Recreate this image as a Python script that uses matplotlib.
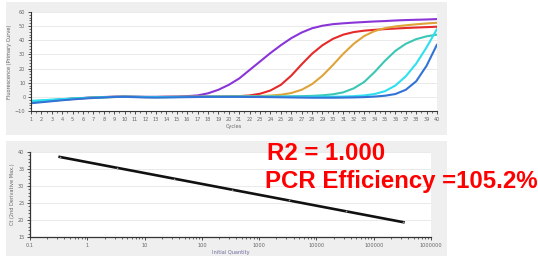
import numpy as np
import matplotlib
matplotlib.use("Agg")
import matplotlib.pyplot as plt
from matplotlib.patches import Rectangle
from matplotlib.ticker import MultipleLocator, LogLocator, NullFormatter, FixedLocator

cycles = list(range(1, 41))
purple = [-3.5, -3.0, -2.4, -1.8, -1.2, -0.8, -0.4, -0.1, 0.1, 0.2, 0.1, 0.0, 0.0, 0.1, 0.2, 0.5, 1.0, 2.5, 5.0, 8.5,
          13, 19, 25, 31, 36.5, 41.5, 45.5, 48.5, 50.3, 51.4, 52.0, 52.5, 52.9, 53.3, 53.6, 54.0, 54.3, 54.5, 54.7, 55.0]
red = [-3.8, -3.2, -2.6, -2.0, -1.4, -0.9, -0.5, -0.2, 0.0, 0.1, 0.0, -0.1, -0.1, 0.0, 0.0, 0.1, 0.1, 0.2, 0.2, 0.3,
       0.5, 1.0, 2.2, 4.5, 8.5, 15, 23, 30.5, 36.5, 41, 44, 45.8, 46.8, 47.4, 47.9, 48.3, 48.7, 49.0, 49.3, 49.6]
gold = [-4.0, -3.4, -2.7, -2.1, -1.5, -1.0, -0.6, -0.3, -0.1, 0.0, -0.1, -0.2, -0.2, -0.1, 0.0, 0.0, 0.1, 0.1, 0.2, 0.2,
        0.3, 0.4, 0.6, 0.9, 1.5, 2.7, 5.0, 9.0, 15, 22.5, 30.5, 37.5, 43, 46.5, 48.6, 49.8, 50.6, 51.3, 51.9, 52.4]
teal = [-3.2, -2.7, -2.2, -1.7, -1.2, -0.8, -0.5, -0.2, 0.0, 0.1, 0.0, -0.1, -0.2, -0.2, -0.1, 0.0, 0.0, 0.1, 0.1, 0.1,
        0.2, 0.2, 0.2, 0.3, 0.3, 0.4, 0.5, 0.7, 1.1, 1.8, 3.2, 6.0, 10.5, 17.5, 25.5, 32.5, 37.5, 40.8, 42.8, 44.0]
cyan = [-2.8, -2.4, -2.0, -1.6, -1.2, -0.9, -0.6, -0.3, -0.1, 0.0, 0.0, -0.1, -0.1, -0.1, 0.0, 0.0, 0.0, 0.0, 0.1, 0.1,
        0.1, 0.1, 0.1, 0.1, 0.0, 0.0, 0.0, 0.0, 0.1, 0.1, 0.2, 0.5, 1.0, 2.0, 4.0, 8.0, 14.5, 23.5, 35, 48]
blue = [-4.5, -3.8, -3.1, -2.4, -1.8, -1.2, -0.8, -0.4, -0.1, 0.0, -0.2, -0.4, -0.5, -0.4, -0.3, -0.2, -0.1, 0.0, 0.0, 0.0,
        0.0, -0.1, -0.1, -0.2, -0.3, -0.4, -0.5, -0.6, -0.6, -0.6, -0.5, -0.4, -0.2, 0.2, 0.8, 2.0, 5.0, 11, 22, 37]

series = [("purple", purple, "#8a35d8"), ("red", red, "#e52a2a"), ("gold", gold, "#e0a33a"),
          ("teal", teal, "#3cc6b4"), ("cyan", cyan, "#2fe0ee"), ("blue", blue, "#3173d6")]

quantity = [0.33, 3.3, 33, 330, 3300, 33000, 330000]
ct = [38.55, 35.35, 32.15, 28.95, 25.75, 22.55, 19.35]

W, H = 538, 259
fig = plt.figure(figsize=(W / 100, H / 100), dpi=100)
fig.patch.set_facecolor("white")

def fbox(x0, y0, x1, y1):
    return [x0 / W, 1 - y1 / H, (x1 - x0) / W, (y1 - y0) / H]

panel_col = "#efefef"
for (x0, y0, x1, y1) in [(6, 2, 447, 135), (6, 141, 447, 256)]:
    b = fbox(x0, y0, x1, y1)
    fig.patches.append(Rectangle((b[0], b[1]), b[2], b[3], transform=fig.transFigure,
                                 facecolor=panel_col, edgecolor="none", zorder=-10))

tick_col = "#666666"
fs = 3.6

# Top: amplification plot
ax1 = fig.add_axes(fbox(31, 12, 437, 111))
ax1.set_zorder(1)
for name, vals, col in series:
    ax1.plot(cycles, vals, color=col, lw=1.5, solid_capstyle="round", solid_joinstyle="round")
ax1.set_xlim(1, 40)
ax1.set_ylim(-10, 60)
ax1.xaxis.set_major_locator(MultipleLocator(1))
ax1.xaxis.set_minor_locator(MultipleLocator(0.5))
ax1.yaxis.set_major_locator(MultipleLocator(10))
ax1.yaxis.set_minor_locator(MultipleLocator(2))
ax1.grid(axis="y", color="#e6e6e6", lw=0.6)
ax1.set_axisbelow(True)
for s in ["top", "right"]:
    ax1.spines[s].set_visible(False)
for s in ["left", "bottom"]:
    ax1.spines[s].set_color("#333333")
    ax1.spines[s].set_linewidth(0.8)
ax1.tick_params(which="major", length=2.5, width=0.6, labelsize=fs, labelcolor=tick_col, pad=1.5, color="#333333")
ax1.tick_params(which="minor", length=1.5, width=0.5, color="#333333")
ax1.set_xlabel("Cycles", fontsize=fs, color=tick_col, labelpad=1.5)
ax1.set_ylabel("Fluorescence (Primary Curve)", fontsize=fs, color=tick_col, labelpad=2)

# Bottom: standard curve
ax2 = fig.add_axes(fbox(30, 152, 431, 237))
ax2.set_zorder(1)
ax2.plot(quantity, ct, color="#111111", lw=1.9)
ax2.plot(quantity, ct, ls="none", marker="+", ms=2, mew=0.4, color="#999999")
ax2.set_xscale("log")
ax2.set_xlim(0.1, 1e6)
ax2.set_ylim(15, 40)
ax2.xaxis.set_major_locator(FixedLocator([0.1, 1, 10, 100, 1000, 10000, 100000, 1000000]))
ax2.set_xticklabels(["0.1", "1", "10", "100", "1000", "10000", "100000", "1000000"])
ax2.xaxis.set_minor_locator(LogLocator(base=10, subs=np.arange(2, 10)))
ax2.xaxis.set_minor_formatter(NullFormatter())
ax2.yaxis.set_major_locator(MultipleLocator(5))
ax2.yaxis.set_minor_locator(MultipleLocator(1))
ax2.grid(axis="y", which="major", color="#e6e6e6", lw=0.6)
ax2.set_axisbelow(True)
for s in ["top", "right"]:
    ax2.spines[s].set_visible(False)
for s in ["left", "bottom"]:
    ax2.spines[s].set_color("#333333")
    ax2.spines[s].set_linewidth(0.9)
ax2.tick_params(which="major", length=2.5, width=0.6, labelsize=fs, labelcolor=tick_col, pad=1.5, color="#333333")
ax2.tick_params(which="minor", length=1.5, width=0.5, color="#333333")
ax2.set_xlabel("Initial Quantity", fontsize=fs, color="#6a6a9a", labelpad=2)
ax2.set_ylabel("Ct (2nd Derivative Max.)", fontsize=fs, color=tick_col, labelpad=2)

# Annotation text
t1 = fig.text(267 / W, 1 - 160 / H, "R2 = 1.000", color="#ff0000", fontsize=17.3, fontweight="bold",
              family=["Liberation Sans", "DejaVu Sans"], ha="left", va="baseline")
t2 = fig.text(265 / W, 1 - 188 / H, "PCR Efficiency =105.2%", color="#ff0000", fontsize=17.3, fontweight="bold",
              family=["Liberation Sans", "DejaVu Sans"], ha="left", va="baseline")
t1.set_zorder(5)
t2.set_zorder(5)

fig.savefig("out.png", dpi=100, facecolor="white")
